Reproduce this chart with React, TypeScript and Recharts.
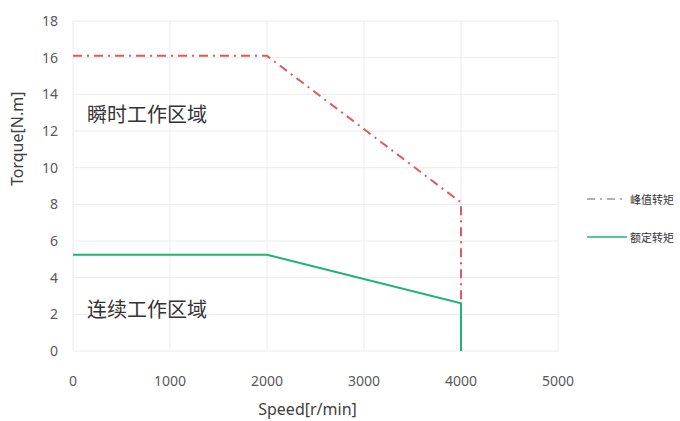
import React from 'react';
import { LineChart, Line, XAxis, YAxis, CartesianGrid, Customized } from 'recharts';

const speedPeak = [0, 2000, 4000, 4000];
const torquePeak = [16.1, 16.1, 8.1, 0];
const speedRated = [0, 2000, 4000, 4000];
const torqueRated = [5.25, 5.25, 2.6, 0];
const xTicks = [0, 1000, 2000, 3000, 4000, 5000];
const yTicks = [0, 2, 4, 6, 8, 10, 12, 14, 16, 18];
const peakName = '峰值转矩';
const ratedName = '额定转矩';
const zoneTransient = '瞬时工作区域';
const zoneContinuous = '连续工作区域';

const peakData = speedPeak.map((s, i) => ({ speed: s, torque: torquePeak[i] }));
const ratedData = speedRated.map((s, i) => ({ speed: s, torque: torqueRated[i] }));

const FONT = '"Noto Sans", "Open Sans", "Noto Sans CJK SC", sans-serif';
const RED = '#e05a5a';
const GREEN = '#1fb37a';

const Annotations = () => (
  <g>
    <text x={87} y={122} fontSize={20} fill="#333" fontFamily={FONT}>{zoneTransient}</text>
    <text x={87} y={317} fontSize={20} fill="#333" fontFamily={FONT}>{zoneContinuous}</text>
  </g>
);

export default function App() {
  return (
    <div style={{ position: 'absolute', left: 0, top: 0, width: 680, height: 421, background: '#fff' }}>
      <LineChart width={680} height={421} margin={{ top: 21, right: 122, bottom: 0, left: 0 }}>
        <CartesianGrid stroke="#ececec" strokeWidth={1} />
        <XAxis
          type="number"
          dataKey="speed"
          domain={[0, 5000]}
          ticks={xTicks}
          height={70}
          axisLine={false}
          tickLine={false}
          tickMargin={19}
          tick={{ fill: '#595959', fontSize: 14, fontFamily: FONT }}
          label={{ value: 'Speed[r/min]', position: 'insideBottom', offset: 6, dx: -8, fill: '#404040', fontSize: 16, fontFamily: FONT }}
        />
        <YAxis
          type="number"
          dataKey="torque"
          domain={[0, 18]}
          ticks={yTicks}
          width={73}
          axisLine={false}
          tickLine={false}
          tickMargin={9}
          tick={{ fill: '#595959', fontSize: 14, fontFamily: FONT }}
          label={{ value: 'Torque[N.m]', angle: -90, position: 'insideLeft', offset: 17, fill: '#404040', fontSize: 16, fontFamily: FONT }}
        />
        <Line
          data={peakData}
          dataKey="torque"
          stroke={RED}
          strokeWidth={2}
          strokeDasharray="9 5 2 5"
          dot={false}
          isAnimationActive={false}
          type="linear"
        />
        <Line
          data={ratedData}
          dataKey="torque"
          stroke={GREEN}
          strokeWidth={2}
          dot={false}
          isAnimationActive={false}
          type="linear"
        />
        <Customized component={Annotations} />
      </LineChart>
      <div style={{ position: 'absolute', left: 587, top: 190, fontFamily: FONT, fontSize: 11, color: '#333' }}>
        <div style={{ display: 'flex', alignItems: 'center', height: 18 }}>
          <svg width={40} height={6}><line x1={0} y1={3} x2={40} y2={3} stroke="#999" strokeWidth={1.5} strokeDasharray="8 5 2 5" /></svg>
          <span style={{ marginLeft: 3 }}>{peakName}</span>
        </div>
        <div style={{ display: 'flex', alignItems: 'center', height: 18, marginTop: 20 }}>
          <svg width={40} height={6}><line x1={0} y1={3} x2={40} y2={3} stroke={GREEN} strokeWidth={1.5} /></svg>
          <span style={{ marginLeft: 3 }}>{ratedName}</span>
        </div>
      </div>
    </div>
  );
}
